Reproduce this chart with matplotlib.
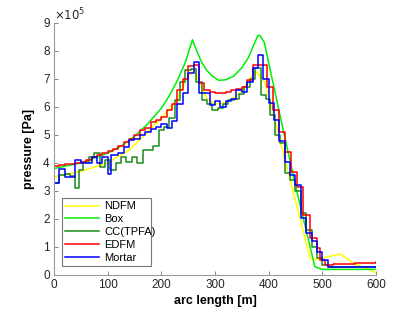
import matplotlib
matplotlib.use("Agg")
import matplotlib.pyplot as plt

plt.rcParams['font.family'] = ['Liberation Sans', 'DejaVu Sans']

# NDFM (smooth)
ndfm_x = [0, 50, 100, 140, 180, 210, 230, 250, 262, 270, 285, 300, 320, 340, 356, 370, 378,
          393, 412, 418, 440, 460, 477, 490, 510, 533, 560, 600]
ndfm_y = [3.5, 3.7, 4.0, 4.46, 5.2, 5.8, 6.3, 7.1, 7.3, 6.9, 6.3, 6.1, 6.15, 6.4, 6.7, 7.15, 7.25,
          6.86, 5.5, 5.07, 3.4, 1.9, 0.6, 0.55, 0.65, 0.75, 0.4, 0.08]

# Box (smooth)
box_x = [0, 50, 100, 125, 150, 175, 200, 215, 230, 245, 258, 264, 275, 285, 295, 307, 320, 335,
         350, 362, 372, 380, 384, 392, 420, 450, 486, 500, 600]
box_y = [3.8, 4.0, 4.35, 4.6, 4.95, 5.4, 5.95, 6.4, 6.95, 7.6, 8.4, 8.1, 7.6, 7.3, 7.1, 6.95,
         6.97, 7.1, 7.4, 7.75, 8.2, 8.55, 8.55, 8.3, 5.8, 3.2, 0.3, 0.2, 0.2]

# CC(TPFA) (cell-wise)
cc_x = [0, 10, 20, 30, 40, 46, 55, 65, 75, 85, 95, 105, 115, 125, 135, 145, 155, 165, 175, 185,
        195, 205, 215, 225, 235, 245, 255, 265, 275, 285, 295, 305, 315, 325, 335, 345, 355, 365,
        375, 385, 395, 402, 412, 421, 430, 440, 450, 460, 470, 480, 490, 500, 510, 600]
cc_y = [3.28, 3.57, 3.6, 3.55, 3.1, 3.75, 4.04, 4.2, 4.36, 3.86, 4.1, 3.75, 4.0, 4.2, 4.04, 4.2,
        4.0, 4.46, 4.46, 4.6, 5.18, 5.3, 5.6, 6.25, 6.9, 7.32, 7.35, 6.9, 6.25, 6.1, 5.9, 5.95,
        6.1, 6.25, 6.3, 6.45, 6.7, 7.0, 7.4, 6.43, 6.3, 5.7, 5.0, 4.7, 3.64, 3.4, 3.0, 2.2, 1.6,
        1.0, 0.6, 0.35, 0.3, 0.3]

# EDFM (cell-wise)
edfm_x = [0, 10, 20, 30, 40, 50, 60, 70, 80, 90, 100, 110, 120, 130, 140, 150, 160, 170, 180, 190,
          200, 210, 220, 230, 240, 250, 260, 270, 280, 290, 300, 310, 320, 330, 340, 350, 360, 370,
          380, 390, 397, 408, 419, 430, 441, 452, 464, 477, 490, 496, 505, 520, 560, 600]
edfm_y = [3.9, 3.92, 3.95, 3.98, 4.0, 4.05, 4.12, 4.2, 4.28, 4.35, 4.42, 4.5, 4.6, 4.75, 4.86,
          5.0, 5.18, 5.25, 5.46, 5.55, 5.65, 5.9, 6.1, 6.6, 7.0, 7.45, 7.5, 6.85, 6.6, 6.55, 6.5,
          6.5, 6.55, 6.6, 6.65, 6.7, 6.96, 7.5, 7.5, 7.5, 6.7, 5.9, 5.1, 4.4, 3.68, 3.14, 2.14,
          1.32, 0.96, 0.54, 0.36, 0.38, 0.42, 0.45]

# Mortar (cell-wise)
mortar_x = [0, 10, 20, 30, 40, 50, 60, 70, 80, 90, 100, 106, 110, 120, 130, 140, 150, 160, 170, 180,
            190, 200, 210, 220, 230, 240, 250, 260, 270, 280, 290, 300, 310, 320, 330, 340, 350, 360,
            370, 380, 390, 400, 410, 420, 430, 440, 450, 460, 470, 480, 490, 500, 510, 600]
mortar_y = [3.3, 3.8, 3.5, 3.5, 4.1, 4.0, 4.0, 4.2, 4.0, 4.2, 3.6, 4.3, 4.3, 4.36, 4.57, 4.82, 4.85,
            5.0, 5.1, 5.2, 5.3, 5.4, 5.25, 5.5, 6.1, 6.5, 7.2, 7.6, 6.5, 6.5, 6.07, 6.2, 6.0, 6.2,
            6.3, 6.6, 6.55, 6.9, 7.4, 7.85, 7.0, 6.14, 5.54, 4.8, 4.04, 3.57, 3.2, 2.04, 1.5, 1.2,
            0.82, 0.54, 0.29, 0.28]

labels = ['NDFM', 'Box', 'CC(TPFA)', 'EDFM', 'Mortar']
colors = ['#ffff00', '#00ee00', '#1a8c1a', '#ff0000', '#0000ff']

fig = plt.figure(figsize=(4.15, 3.12), dpi=100)
ax = fig.add_axes([0.130, 0.1186, 0.776, 0.808])

lw = 1.1
ax.plot(ndfm_x, ndfm_y, color=colors[0], lw=lw, label=labels[0])
ax.plot(box_x, box_y, color=colors[1], lw=lw, label=labels[1])
ax.plot(cc_x, cc_y, color=colors[2], lw=lw, drawstyle='steps-post', label=labels[2])
ax.plot(edfm_x, edfm_y, color=colors[3], lw=lw, drawstyle='steps-post', label=labels[3])
ax.plot(mortar_x, mortar_y, color=colors[4], lw=lw, drawstyle='steps-post', label=labels[4])

ax.set_xlim(0, 600)
ax.set_ylim(0, 9)
ax.set_xticks([0, 100, 200, 300, 400, 500, 600])
ax.set_yticks(range(0, 10))
for s in ['top', 'right']:
    ax.spines[s].set_visible(False)
for s in ['left', 'bottom']:
    ax.spines[s].set_color('#9a9a9a')
    ax.spines[s].set_linewidth(0.8)
ax.tick_params(direction='in', length=3, width=0.6, color='#777777',
               labelsize=8.5, labelcolor='#262626', pad=3)

ax.text(0.0, 1.0, r'$\times10^5$', transform=ax.transAxes, ha='left', va='bottom',
        fontsize=8.5, color='#262626')

ax.set_xlabel('arc length [m]', fontsize=9, fontweight='bold', labelpad=3)
ax.set_ylabel('pressure [Pa]', fontsize=9, fontweight='bold', labelpad=6)

leg = ax.legend(loc='lower left', bbox_to_anchor=(0.025, 0.036, 0.276, 0.294), mode='expand',
                fontsize=8, frameon=True, fancybox=False, borderaxespad=0, handlelength=3.0,
                handletextpad=0.5, labelspacing=0.25, borderpad=0.3)
leg.get_frame().set_edgecolor('#555555')
leg.get_frame().set_linewidth(0.8)

fig.savefig('out.png', dpi=100)
